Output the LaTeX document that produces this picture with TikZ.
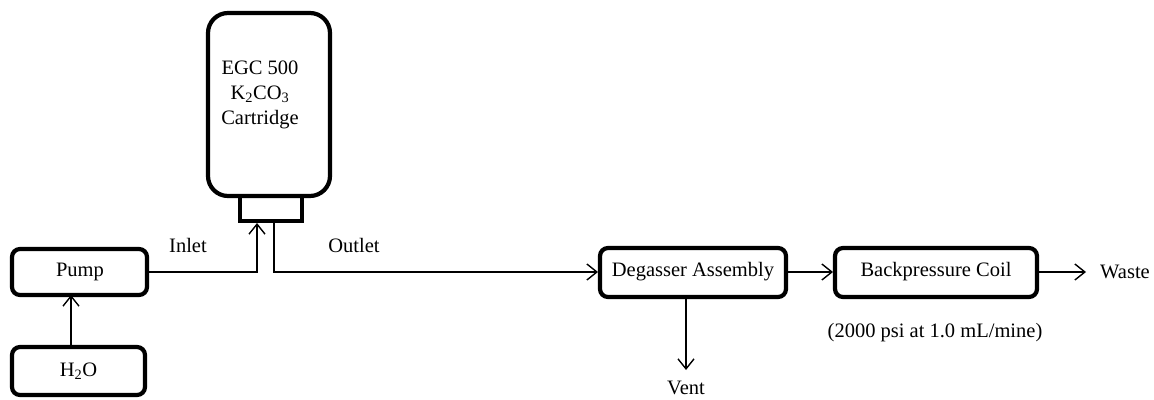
\documentclass[tikz,border=0pt]{standalone}
\usepackage{fontspec}
\setmainfont{Liberation Serif}
\usetikzlibrary{arrows.meta}
\begin{document}
\begin{tikzpicture}[x=1pt,y=-1pt,
  box/.style={draw,line width=4.2pt,rounded corners=8pt},
  conn/.style={line width=1.4pt},
  arr/.style={conn,-{Straight Barb[length=10pt,width=16pt,line width=1.4pt]}},
  lbl/.style={font=\fontsize{20.5}{25}\selectfont,inner sep=0pt}]
\useasboundingbox (0,0) rectangle (1154,399);
% boxes
\draw[box] (12,249) rectangle (147,295);
\node[lbl] (pump) at (80,272) {Pump};
\coordinate (pumpE) at (147,272);
\coordinate (pumpS) at (71,295);
\draw[box] (12,347) rectangle (145,395);
\node[lbl] (water) at (78.5,371) {H\textsubscript{2}O};
\coordinate (waterN) at (71,347);
\draw[box,rounded corners=20pt] (208,13) rectangle (330,196);
\node[lbl,align=center] (cart) at (260,95) {EGC 500\\K\textsubscript{2}CO\textsubscript{3}\\Cartridge};
\draw[line width=4.2pt] (240,196) rectangle (302,221);
\coordinate (inletN) at (257,223);
\coordinate (outletN) at (274,223);
\draw[box] (600,248) rectangle (786,297);
\node[lbl] (degas) at (693,272) {Degasser Assembly};
\draw[box] (835,248) rectangle (1037,297);
\node[lbl] (bpc) at (936,272) {Backpressure Coil};
\node[lbl,anchor=west] (waste) at (1100,272) {Waste};
\node[lbl] (vent) at (686,388) {Vent};
\node[lbl] (note) at (935,333) {(2000 psi at 1.0 mL/mine)};
\node[lbl] (inlet) at (188,245) {Inlet};
\node[lbl] (outlet) at (354,245) {Outlet};
% connectors
\draw[arr] (waterN) -- (pumpS);
\draw[arr] (pumpE) -| (inletN);
\draw[arr] (outletN) |- (598,272);
\draw[arr] (686,299) -- (686,370);
\draw[arr] (788,272) -- (833,272);
\draw[arr] (1039,272) -- (1086,272);
\end{tikzpicture}
\end{document}
